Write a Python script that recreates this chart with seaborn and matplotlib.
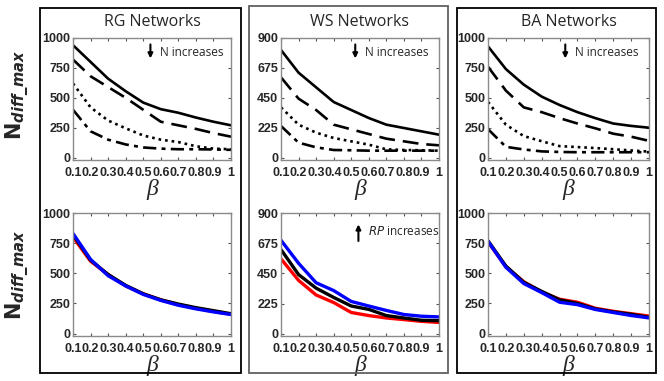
import numpy as np
import pandas as pd
import seaborn as sns
import matplotlib.pyplot as plt
from matplotlib.patches import Rectangle

# beta values (x axis)
beta = [0.1, 0.2, 0.3, 0.4, 0.5, 0.6, 0.7, 0.8, 0.9, 1.0]
beta_labels = ['0.1', '0.2', '0.3', '0.4', '0.5', '0.6', '0.7', '0.8', '0.9', '1']

# top row: four network sizes (N increases downward)
rg_n1 = [940, 800, 660, 555, 460, 405, 375, 335, 300, 270]
rg_n2 = [820, 680, 590, 500, 400, 300, 270, 240, 205, 175]
rg_n3 = [620, 420, 310, 245, 185, 150, 130, 95, 75, 70]
rg_n4 = [400, 220, 150, 110, 85, 75, 70, 70, 68, 65]

ws_n1 = [810, 640, 530, 420, 360, 300, 250, 225, 200, 175]
ws_n2 = [605, 445, 360, 250, 215, 180, 145, 125, 105, 95]
ws_n3 = [380, 250, 190, 150, 125, 100, 65, 60, 58, 55]
ws_n4 = [240, 115, 80, 60, 58, 55, 55, 55, 55, 55]

ba_n1 = [930, 740, 610, 510, 440, 380, 330, 285, 265, 250]
ba_n2 = [760, 560, 420, 380, 330, 285, 245, 200, 175, 140]
ba_n3 = [466, 275, 180, 137, 96, 88, 80, 70, 60, 50]
ba_n4 = [238, 90, 68, 52, 47, 45, 45, 45, 45, 45]

# bottom row: three RP values (red, black, blue)
rg_red = [800, 600, 490, 395, 330, 280, 240, 210, 185, 160]
rg_black = [820, 610, 490, 400, 330, 280, 245, 215, 190, 165]
rg_blue = [830, 615, 480, 395, 325, 275, 235, 205, 180, 158]

ws_red = [559, 399, 290, 234, 160, 137, 119, 107, 94, 86]
ws_black = [628, 442, 341, 272, 208, 183, 137, 119, 102, 99]
ws_blue = [697, 526, 381, 323, 242, 208, 175, 145, 132, 127]

ba_red = [760, 555, 430, 345, 285, 260, 210, 185, 165, 145]
ba_black = [770, 560, 425, 350, 280, 250, 205, 180, 160, 135]
ba_blue = [765, 550, 415, 340, 260, 240, 200, 175, 150, 130]

titles = ['RG Networks', 'WS Networks', 'BA Networks']

sns.set_style('ticks')
plt.rcParams['font.family'] = ['Liberation Sans', 'DejaVu Sans']

W, H = 664, 381
fig = plt.figure(figsize=(W / 100, H / 100), dpi=100)

def fx(px):
    return px / W

def fy(py):
    return 1 - py / H

# panel boxes (pixel coords: left, top, right, bottom) and colours
boxes = [(40, 8, 241, 373, 'black'), (249, 6, 448, 373, '#606060'), (457, 8, 656, 373, 'black')]
for l, t, r, b, c in boxes:
    fig.patches.append(Rectangle((fx(l), fy(b)), fx(r - l), (b - t) / H,
                                 transform=fig.transFigure, fill=False,
                                 edgecolor=c, linewidth=1.3))

ax_x = [(73, 231), (281, 439), (488, 649)]
rows_y = [(38, 160), (213, 336)]

axes = [[None] * 3 for _ in range(2)]
for r, (t, b) in enumerate(rows_y):
    for c, (l, rr) in enumerate(ax_x):
        axes[r][c] = fig.add_axes([fx(l), fy(b), fx(rr - l), (b - t) / H])

top_data = [[rg_n1, rg_n2, rg_n3, rg_n4], [ws_n1, ws_n2, ws_n3, ws_n4], [ba_n1, ba_n2, ba_n3, ba_n4]]
bot_data = [[rg_red, rg_black, rg_blue], [ws_red, ws_black, ws_blue], [ba_red, ba_black, ba_blue]]
styles = ['-', (0, (6, 3)), (0, (1, 1.5)), (0, (5, 2, 1.5, 2))]
colors = ['red', 'black', 'blue']

for c in range(3):
    ax = axes[0][c]
    for vals, ls in zip(top_data[c], styles):
        sns.lineplot(x=beta, y=vals, ax=ax, color='black', linestyle=ls, linewidth=1.9)
    ax = axes[1][c]
    for vals, col in zip(bot_data[c], colors):
        sns.lineplot(x=beta, y=vals, ax=ax, color=col, linewidth=2.4)

for r in range(2):
    for c in range(3):
        ax = axes[r][c]
        ax.set_xlim(0.1, 1.0)
        ax.set_xticks(beta)
        ax.set_xticklabels(beta_labels)
        if c == 1:
            ax.set_ylim(-15, 900)
            ax.set_yticks([0, 225, 450, 675, 900])
        else:
            ax.set_ylim(-20, 1000)
            ax.set_yticks([0, 250, 500, 750, 1000])
        ax.tick_params(direction='in', top=True, right=True, length=2.5, width=0.8,
                       color='#555555', labelsize=9, pad=2)
        ax.tick_params(axis='x', pad=5)
        for lab in ax.get_xticklabels() + ax.get_yticklabels():
            lab.set_fontweight('bold')
        for sp in ax.spines.values():
            sp.set_color('#8a8a8a')
            sp.set_linewidth(1.0)
        ax.set_xlabel('β', family='Liberation Serif', style='italic', fontsize=17, labelpad=0)
        ax.set_ylabel('')

for c, (l, rr) in enumerate(ax_x):
    fig.text(fx((l + rr) / 2), fy(22), titles[c], family='Open Sans', fontsize=11.5,
             ha='center', va='center')

ylab = r'$\mathbf{N}_{\mathbfit{diff\_max}}$'
for yc in (95, 275):
    fig.text(fx(18), fy(yc), ylab, fontsize=15, rotation=90, ha='center', va='center')

# "N increases" annotations
arrow_pos = [(0.49, 0.55), (0.47, 0.53), (0.48, 0.54)]
for c, (ax_f, tx_f) in enumerate(arrow_pos):
    ax = axes[0][c]
    ax.annotate('', xy=(ax_f, 0.81), xytext=(ax_f, 0.97), xycoords='axes fraction',
                arrowprops=dict(arrowstyle='-|>', color='black', lw=1.5, mutation_scale=7))
    ax.text(tx_f, 0.88, 'N increases', transform=ax.transAxes, family='Open Sans',
            fontsize=8.5, va='center', ha='left')

ax = axes[1][1]
ax.annotate('', xy=(0.49, 0.93), xytext=(0.49, 0.75), xycoords='axes fraction',
            arrowprops=dict(arrowstyle='-|>', color='black', lw=1.5, mutation_scale=7))
ax.text(0.55, 0.85, r'$\mathit{RP}$ increases', transform=ax.transAxes, family='Open Sans',
        fontsize=8.5, va='center', ha='left')

fig.savefig('out.png', dpi=100)
